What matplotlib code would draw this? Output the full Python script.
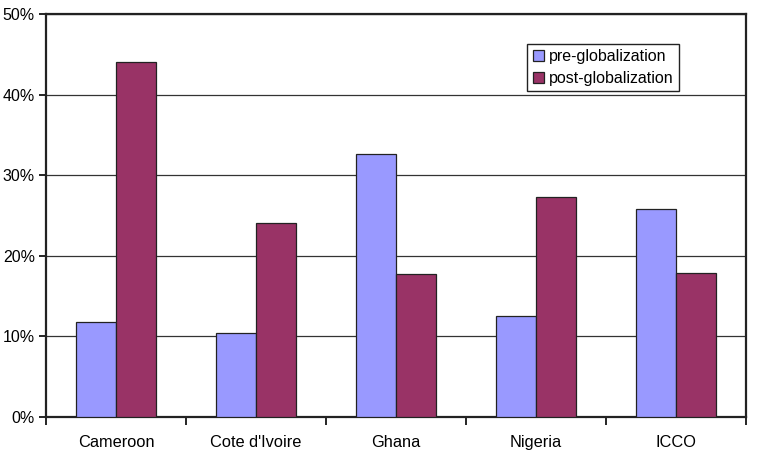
import numpy as np
import matplotlib.pyplot as plt
from matplotlib.ticker import FixedLocator, PercentFormatter

plt.rcParams['font.family'] = ['Liberation Sans', 'DejaVu Sans']

countries = ['Cameroon', "Cote d'Ivoire", 'Ghana', 'Nigeria', 'ICCO']
pre_glob = [11.8, 10.4, 32.6, 12.5, 25.8]
post_glob = [44.0, 24.1, 17.7, 27.3, 17.9]

fig = plt.figure(figsize=(7.62, 4.57), dpi=100)
ax = fig.add_axes([0.0604, 0.0875, 0.9186, 0.882])

x = np.arange(len(countries))
w = 0.285
ax.bar(x - w / 2, pre_glob, w, color='#9999FF', edgecolor='#222222', linewidth=0.9,
       label='pre-globalization', zorder=3)
ax.bar(x + w / 2, post_glob, w, color='#993366', edgecolor='#222222', linewidth=0.9,
       label='post-globalization', zorder=3)

ax.set_xlim(-0.5, len(countries) - 0.5)
ax.set_ylim(0, 50)
ax.set_yticks(np.arange(0, 51, 10))
ax.yaxis.set_major_formatter(PercentFormatter(decimals=0))
ax.grid(axis='y', color='#333333', linewidth=0.9, zorder=1)

ax.set_xticks(x)
ax.set_xticklabels(countries, fontsize=11.8)
ax.tick_params(axis='x', which='major', length=0, pad=13)
ax.xaxis.set_minor_locator(FixedLocator(np.arange(-0.5, len(countries), 1)))
ax.tick_params(axis='x', which='minor', length=6, width=1.2, direction='out')
ax.tick_params(axis='y', length=5, width=1.2, direction='out', pad=3, labelsize=11.5)

for s in ax.spines.values():
    s.set_linewidth(1.6)
    s.set_color('#222222')

leg = ax.legend(loc='upper right', bbox_to_anchor=(0.904, 0.926), fontsize=11.5,
                frameon=True, fancybox=False, edgecolor='#222222', framealpha=1,
                handlelength=0.7, handleheight=0.7, handletextpad=0.3,
                borderpad=0.35, labelspacing=0.4, borderaxespad=0)
leg.get_frame().set_linewidth(1.0)

fig.savefig('out.png', dpi=100)
